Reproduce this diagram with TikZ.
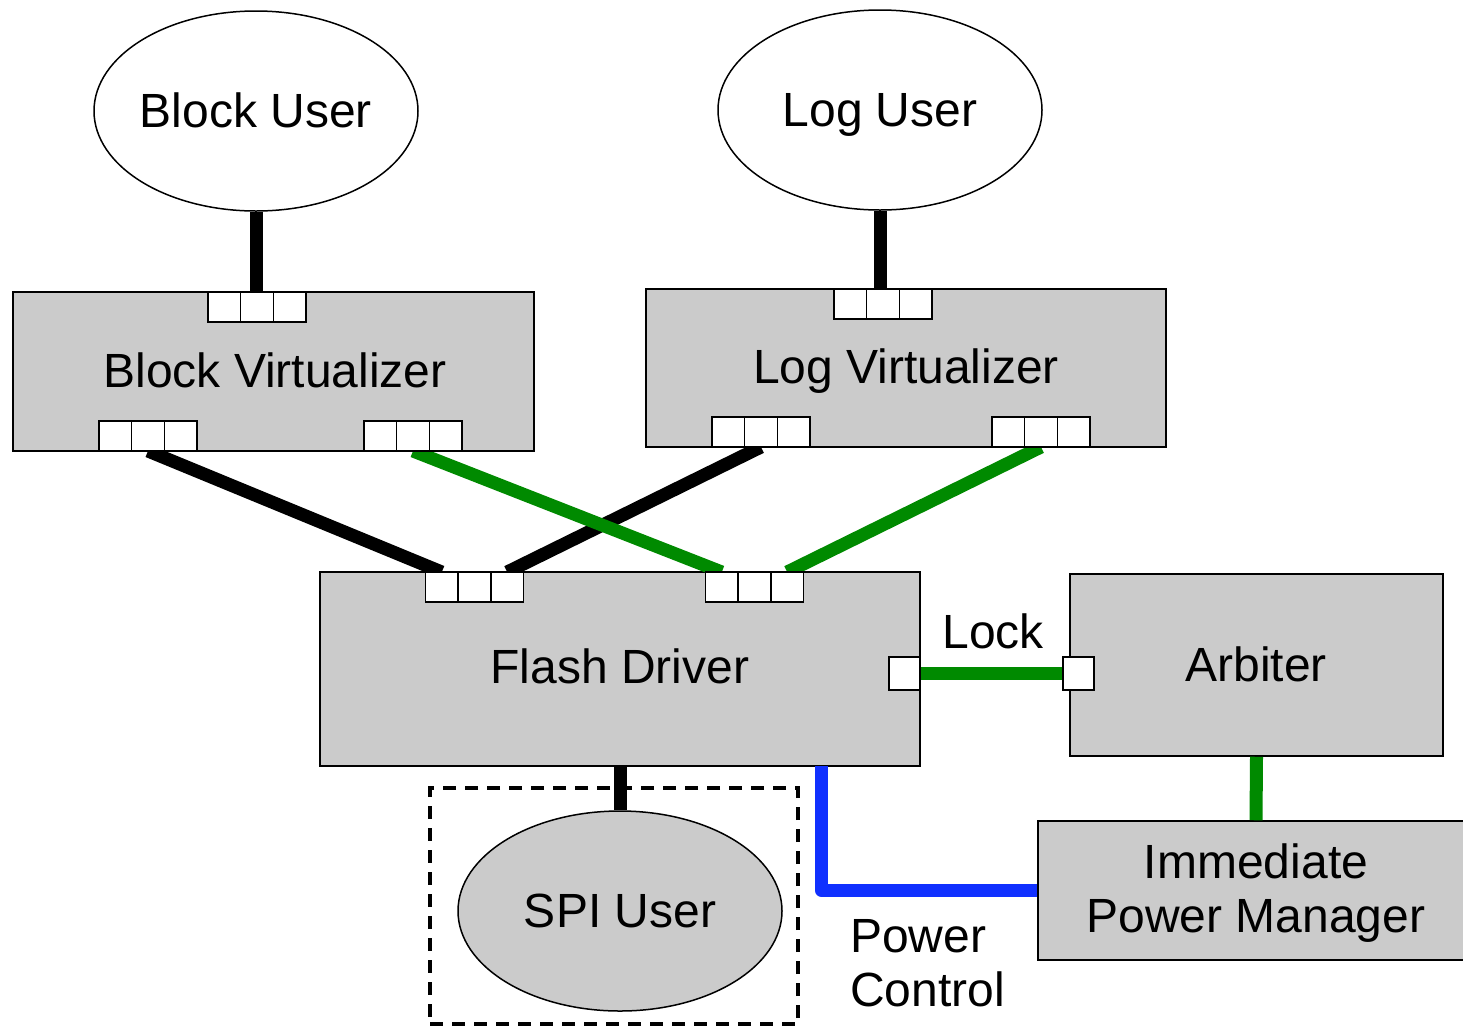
\documentclass[tikz,border=0pt]{standalone}
\usepackage{fontspec}
\setmainfont{Liberation Sans}
\usetikzlibrary{shapes.geometric}
\definecolor{boxgray}{RGB}{203,203,203}
\definecolor{wgreen}{RGB}{0,138,0}
\definecolor{wblue}{RGB}{16,48,255}
\newcommand\portrow[3]{%
  \node[port] (#1-2) at (#2,#3) {};
  \node[port, anchor=east] (#1-1) at (#1-2.west) {};
  \node[port, anchor=west] (#1-3) at (#1-2.east) {};
}
\begin{document}
\begin{tikzpicture}[x=1pt,y=-1pt,
  lbl/.style={font=\fontsize{48}{54}\selectfont},
  onel/.style={lbl, text height=34.5pt, text depth=0pt},
  comp/.style={draw, line width=1.5pt, fill=boxgray, inner sep=0pt, align=center, lbl},
  user/.style={draw, ellipse, line width=1.5pt, minimum width=324pt, minimum height=200pt, inner sep=0pt},
  port/.style={draw, line width=1.5pt, fill=white, minimum width=32.7pt, minimum height=30pt, inner sep=0pt, outer sep=0pt},
  sport/.style={draw, line width=1.5pt, fill=white, minimum width=31pt, minimum height=33pt, inner sep=0pt, outer sep=0pt},
  wire/.style={line width=13pt},
]
\useasboundingbox (0,0) rectangle (1463,1026);
\clip (0,0) rectangle (1463,1026);

% users
\node[user, fill=white] (bu) at (256,111) {};
\node[onel] at (256,110) {Block User};
\node[user, fill=white] (lu) at (880,110) {};
\node[onel] at (880,109) {Log User};

% dashed frame and SPI user
\node[draw, dash pattern=on 13pt off 9pt, line width=3.2pt, minimum width=368pt, minimum height=236pt, inner sep=0pt] (spibox) at (614,906) {};
\node[user, fill=boxgray] (spi) at (620,911) {};
\node[onel] at (620,910) {SPI User};

% components
\node[comp, minimum width=521pt, minimum height=159pt] (bv) at (273.5,371.5) {};
\node[onel] at (275,370) {Block Virtualizer};
\node[comp, minimum width=520pt, minimum height=158pt] (lv) at (906,368) {};
\node[onel] at (906,366) {Log Virtualizer};
\node[comp, minimum width=600pt, minimum height=194pt] (fd) at (620,669) {};
\node[onel] at (620,666.5) {Flash Driver};
\node[comp, minimum width=373pt, minimum height=182pt] (arb) at (1256.5,665) {};
\node[onel] at (1256,664.5) {Arbiter};
\node[comp, minimum width=436pt, minimum height=139pt] (ipm) at (1256,890.5) {};
\node[lbl, align=center] at (1256,893) {Immediate\\Power Manager};

% ports (placed first for anchors, redrawn later on top)
\portrow{bvt}{257}{307}
\portrow{bvbl}{148}{436}
\portrow{bvbr}{413}{436}
\portrow{lvt}{883}{304}
\portrow{lvbl}{761}{432}
\portrow{lvbr}{1041}{432}
\portrow{fdtl}{474.5}{587}
\portrow{fdtr}{754.5}{587}
\node[sport] (fdr) at (904.5,673.5) {};
\node[sport] (arbl) at (1078.5,673.5) {};

% connectors
\draw[wire] (bu.south) -- (bu.south |- bvt-2.north);
\draw[wire] (lu.south) -- (lu.south |- lvt-2.north);
\draw[wire] (bvbl-2.south) -- (fdtl-1.north);
\draw[wire] (lvbl-2.south) -- (fdtl-3.north);
\draw[wire, wgreen] (bvbr-2.south) -- (fdtr-1.north);
\draw[wire, wgreen] (lvbr-2.south) -- (fdtr-3.north);
\draw[wire, wgreen] (fdr.east) -- (arbl.west);
\draw[wire, wgreen] (arb.south) -- (ipm.north);
\draw[wire] (fd.south) -- (spi.north);
\draw[wire, wblue, line join=round] (821.5,766) coordinate (pc) -- (pc |- ipm.west) -- (ipm.west);

% ports on top
\portrow{bvt}{257}{307}
\portrow{bvbl}{148}{436}
\portrow{bvbr}{413}{436}
\portrow{lvt}{883}{304}
\portrow{lvbl}{761}{432}
\portrow{lvbr}{1041}{432}
\portrow{fdtl}{474.5}{587}
\portrow{fdtr}{754.5}{587}
\node[sport] (fdr) at (904.5,673.5) {};
\node[sport] (arbl) at (1078.5,673.5) {};

% labels
\node[onel] (lock) at (993,631.5) {Lock};
\node[lbl, align=left, anchor=north west, inner sep=0pt] (pwr) at (850,919) {Power\\Control};
\end{tikzpicture}
\end{document}
